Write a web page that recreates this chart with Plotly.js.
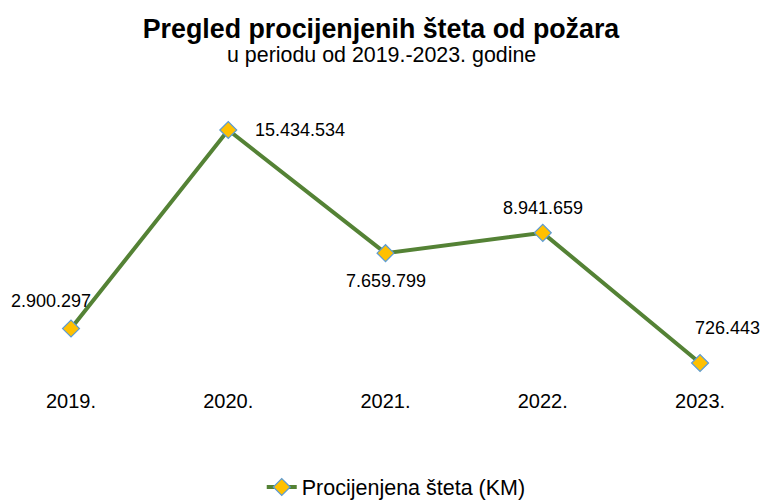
<!DOCTYPE html>
<html>
<head>
<meta charset="utf-8">
<script src="https://cdn.plot.ly/plotly-3.0.1.min.js"></script>
<style>
  html, body { margin: 0; padding: 0; background: #fff; }
  #chart { width: 762px; height: 500px; }
</style>
</head>
<body>
<div id="chart"></div>
<script>
var years = ["2019.", "2020.", "2021.", "2022.", "2023."];
var steta = [2900297, 15434534, 7659799, 8941659, 726443];
var labels = ["2.900.297", "15.434.534", "7.659.799", "8.941.659", "726.443"];

// label offsets around each point (px)
var lblShiftX = [-20, 72, 0, 0, 27];
var lblShiftY = [28, 0, -28, 25, 35];

var fontName = "Liberation Sans, Arial, sans-serif";

var trace = {
	type: "scatter",
	mode: "lines+markers",
	x: years,
	y: steta,
	name: "Procijenjena šteta (KM)",
	line: { color: "#548235", width: 4 },
	marker: {
		symbol: "diamond",
		size: 13,
		color: "#FFC000",
		line: { color: "#5B9BD5", width: 1.2 }
	},
	hoverinfo: "x+y"
};

var annots = [];
for (var i = 0; i < years.length; i++) {
	annots.push({
		x: i,
		y: steta[i],
		xref: "x",
		yref: "y",
		text: labels[i],
		showarrow: false,
		xshift: lblShiftX[i],
		yshift: lblShiftY[i],
		font: { family: fontName, size: 18, color: "#000" }
	});
}
// subtitle
annots.push({
	xref: "paper",
	yref: "paper",
	x: 0.5,
	y: (380 - 55) / 300,
	yanchor: "middle",
	showarrow: false,
	text: "u periodu od 2019.-2023. godine",
	font: { family: fontName, size: 21.4, color: "#000" }
});

var layout = {
	width: 762,
	height: 500,
	paper_bgcolor: "#fff",
	plot_bgcolor: "#fff",
	font: { family: fontName, color: "#000" },
	title: {
		text: "<b>Pregled procijenjenih šteta od požara</b>",
		font: { size: 26.8, color: "#000" },
		x: 0.5,
		xanchor: "center",
		y: 0.942,
		yanchor: "middle",
		yref: "container"
	},
	margin: { l: 0, r: 0, t: 80, b: 120 },
	xaxis: {
		type: "category",
		range: [-0.4515, 4.394],
		automargin: false,
		showgrid: false,
		zeroline: false,
		showline: false,
		ticks: "",
		ticklabelstandoff: 7,
		tickfont: { size: 20, color: "#000" },
		fixedrange: true
	},
	yaxis: {
		range: [-347222, 18592000],
		automargin: false,
		showticklabels: false,
		showgrid: false,
		zeroline: false,
		showline: false,
		ticks: "",
		fixedrange: true
	},
	showlegend: true,
	legend: {
		orientation: "h",
		x: 0.52,
		xanchor: "center",
		yref: "container",
		y: 0.026,
		yanchor: "middle",
		font: { size: 21.5, color: "#000" }
	},
	annotations: annots
};

Plotly.newPlot("chart", [trace], layout, { displayModeBar: false });
</script>
</body>
</html>
